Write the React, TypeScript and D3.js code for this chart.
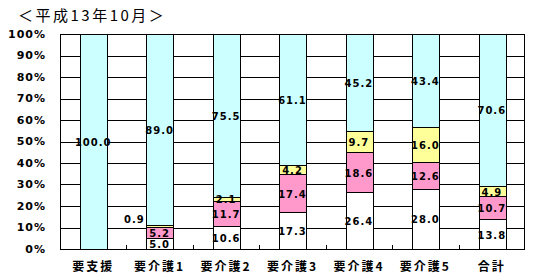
import React from "react";
import * as d3 from "d3";

const categories = ["要支援", "要介護1", "要介護2", "要介護3", "要介護4", "要介護5", "合計"];
const seriesKeys = ["s1", "s2", "s3", "s4"];
const seriesColors = ["#FFFFFF", "#FF99CC", "#FFFF99", "#CCFFFF"];
const s1Values = [0, 5.0, 10.6, 17.3, 26.4, 28.0, 13.8];
const s2Values = [0, 5.2, 11.7, 17.4, 18.6, 12.6, 10.7];
const s3Values = [0, 0.9, 2.1, 4.2, 9.7, 16.0, 4.9];
const s4Values = [100.0, 89.0, 75.5, 61.1, 45.2, 43.4, 70.6];
const yTicks = [0, 10, 20, 30, 40, 50, 60, 70, 80, 90, 100];
const title = "＜平成13年10月＞";

const W = 539;
const H = 280;
const plot = { left: 60, right: 525, top: 34, bottom: 249 };

export default function App() {
  const rows = categories.map((c, i) => ({
    cat: c,
    s1: s1Values[i],
    s2: s2Values[i],
    s3: s3Values[i],
    s4: s4Values[i],
  }));
  const stacked = d3.stack<any>().keys(seriesKeys)(rows);

  const xBand = d3.scaleBand<string>().domain(categories).range([plot.left, plot.right]).paddingInner(0).paddingOuter(0);
  const bw = xBand.bandwidth();
  const barW = bw * 0.4;
  const y = d3.scaleLinear().domain([0, 100]).range([plot.bottom, plot.top]);

  const labelFont = "'DejaVu Sans', sans-serif";

  return (
    <svg width={W} height={H} style={{ position: "absolute", left: 0, top: 0, background: "#fff" }}>
      <rect x={0} y={0} width={W} height={H} fill="#fff" />
      <text x={18} y={20.5} fontFamily="'Noto Sans CJK JP', sans-serif" fontSize={15} letterSpacing={2.5} fill="#000">
        {title}
      </text>
      {/* gridlines */}
      {yTicks.map((t) => (
        <line key={"g" + t} x1={plot.left} x2={plot.right} y1={Math.round(y(t)) + 0.5} y2={Math.round(y(t)) + 0.5} stroke="#000" strokeWidth={1} />
      ))}
      {/* y labels */}
      {yTicks.map((t) => (
        <text
          key={"yl" + t}
          x={46}
          y={y(t)}
          dy="0.36em"
          textAnchor="end"
          fontFamily={labelFont}
          fontWeight="bold"
          fontSize={11}
          letterSpacing={1}
          fill="#000"
        >
          {t + "%"}
        </text>
      ))}
      {/* bars */}
      {stacked.map((s, si) =>
        s.map((d, ci) => {
          const v = d[1] - d[0];
          if (v <= 0) return null;
          const x0 = (xBand(categories[ci]) as number) + (bw - barW) / 2;
          const yTop = y(d[1]);
          const yBot = y(d[0]);
          return (
            <rect
              key={"b" + si + "-" + ci}
              x={Math.round(x0) + 0.5}
              y={Math.round(yTop) + 0.5}
              width={Math.round(barW)}
              height={Math.max(0, Math.round(yBot) - Math.round(yTop))}
              fill={seriesColors[si]}
              stroke="#000"
              strokeWidth={1}
            />
          );
        })
      )}
      {/* plot border */}
      <rect
        x={plot.left + 0.5}
        y={plot.top + 0.5}
        width={plot.right - plot.left - 1}
        height={Math.round(plot.bottom - plot.top)}
        fill="none"
        stroke="#000"
        strokeWidth={1}
      />
      {/* bottom ticks at category boundaries */}
      {categories.slice(1).map((c) => {
        const xx = Math.round(xBand(c) as number) + 0.5;
        return <line key={"t" + c} x1={xx} x2={xx} y1={plot.bottom} y2={plot.bottom - 4} stroke="#000" strokeWidth={1} />;
      })}
      {/* data labels */}
      {stacked.map((s, si) =>
        s.map((d, ci) => {
          const v = d[1] - d[0];
          if (v <= 0) return null;
          const cx = (xBand(categories[ci]) as number) + bw / 2;
          let lx = cx;
          let ly = y((d[0] + d[1]) / 2);
          if (v < 1.5) {
            // small segment: label placed to the left of the bar
            lx = cx - barW / 2 - 12;
            ly = y(d[1] + 3);
          }
          return (
            <text
              key={"l" + si + "-" + ci}
              x={lx}
              y={ly}
              dy="0.45em"
              textAnchor="middle"
              fontFamily={labelFont}
              fontWeight="bold"
              fontSize={10}
              letterSpacing={1}
              fill="#000"
            >
              {v.toFixed(1)}
            </text>
          );
        })
      )}
      {/* category labels */}
      {categories.map((c) => (
        <text
          key={"c" + c}
          x={(xBand(c) as number) + bw / 2}
          y={271}
          textAnchor="middle"
          fontFamily="'Noto Sans CJK JP', sans-serif"
          fontWeight="bold"
          fontSize={12}
          letterSpacing={2}
          fill="#000"
        >
          {c}
        </text>
      ))}
    </svg>
  );
}
